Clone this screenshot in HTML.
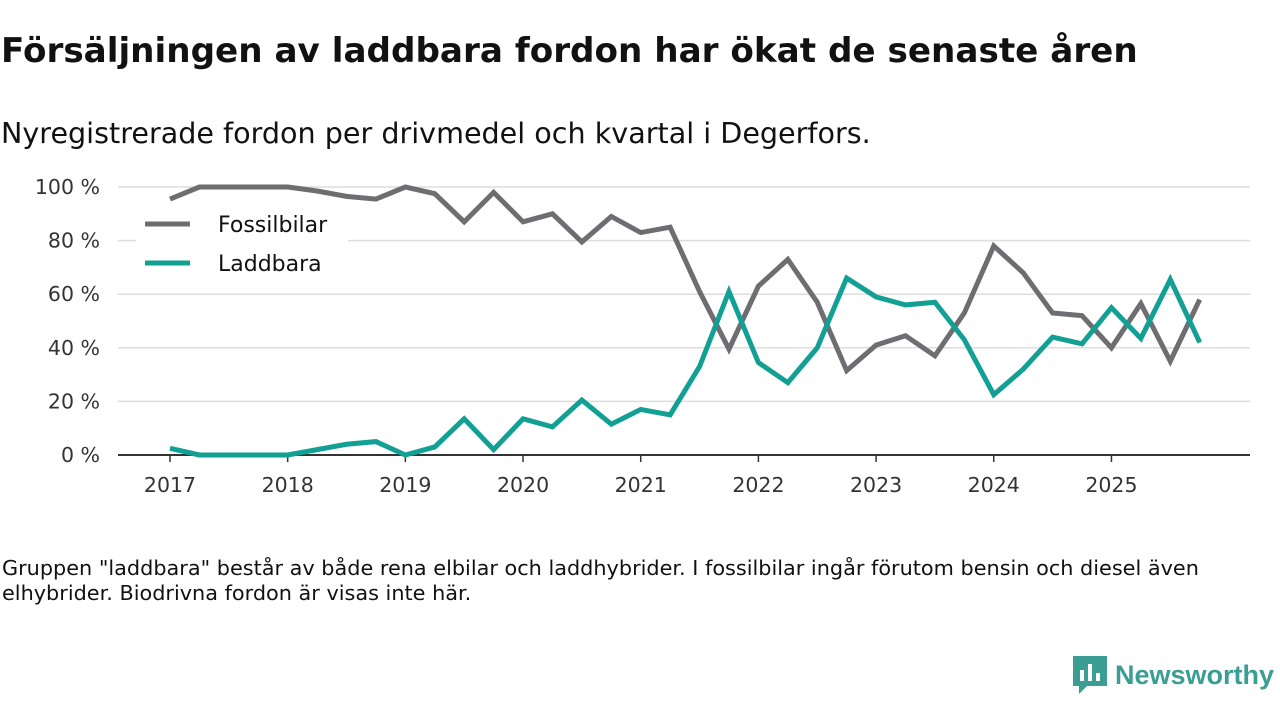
<!DOCTYPE html>
<html><head><meta charset="utf-8">
<style>
body{margin:0;width:1280px;height:720px;background:#fff;font-family:"DejaVu Sans","Liberation Sans",sans-serif;color:#111;overflow:hidden;position:relative}
.t{position:absolute;left:1px;top:31px;font-size:34.2px;font-weight:bold;margin:0;letter-spacing:0;white-space:nowrap}
.s{position:absolute;left:1px;top:116px;font-size:28.6px;margin:0;white-space:nowrap}
.f{position:absolute;left:2px;top:556px;font-size:20.8px;line-height:25px;width:1250px}
</style></head><body>
<h1 class="t">Försäljningen av laddbara fordon har ökat de senaste åren</h1>
<p class="s">Nyregistrerade fordon per drivmedel och kvartal i Degerfors.</p>
<svg id="c" width="1280" height="720" style="position:absolute;left:0;top:0;font-family:'DejaVu Sans',sans-serif"></svg>
<div class="f">Gruppen "laddbara" består av både rena elbilar och laddhybrider. I fossilbilar ingår förutom bensin och diesel även elhybrider. Biodrivna fordon är visas inte här.</div>
<div style="position:absolute;left:1073px;top:656px;display:flex;align-items:center;gap:8px;font-family:'Liberation Sans',sans-serif">
<svg width="34" height="38" viewBox="0 0 34 38"><path d="M0 0H34V30H14L6 38V30H0Z" fill="#3a9e94"/><rect x="7" y="14" width="4" height="11" fill="#fff"/><rect x="15" y="8" width="4" height="17" fill="#fff"/><rect x="23" y="17" width="4" height="8" fill="#fff"/></svg>
<span style="font-size:27px;font-weight:bold;color:#3a9e94">Newsworthy</span></div>
<script>
const years=["2017","2018","2019","2020","2021","2022","2023","2024","2025"];
const yTicks=[0,20,40,60,80,100];
const fossil=[95.5,100,100,100,100,98.5,96.5,95.5,100,97.5,87,98,87,90,79.5,89,83,85,61,39.5,63,73,57,31.5,41,44.5,37,53,78,68,53,52,40,56.5,35,58];
const laddbara=[2.5,0,0,0,0,2,4,5,0,3,13.5,2,13.5,10.5,20.5,11.5,17,15,33,61,34.5,27,40,66,59,56,57,43,22.5,32,44,41.5,55,43.5,65.5,42];
const svg=document.getElementById('c');const NS='http://www.w3.org/2000/svg';
const X=i=>170+i*29.42, Y=v=>455-v*2.68;
function mk(t,a,p){const e=document.createElementNS(NS,t);for(const k in a)e.setAttribute(k,a[k]);(p||svg).appendChild(e);return e;}
yTicks.forEach(v=>{
 const g=mk('line',{x1:118,x2:1250,y1:Y(v),y2:Y(v),stroke:v===0?'#333':'#ddd','stroke-width':v===0?2:1.5});
 
 
 const t=mk('text',{x:100,y:Y(v)+7,'text-anchor':'end','font-size':20.5,fill:'#333'});t.textContent=v+' %';
 
 
});
years.forEach((y,i)=>{
 const x=X(i*4);
 mk('line',{x1:x,x2:x,y1:455,y2:462,stroke:'#333','stroke-width':1.5});
 const t=mk('text',{x:x,y:492,'text-anchor':'middle','font-size':20.5,fill:'#333'});t.textContent=y;
 
 
});
function line(d,col,name){const p=mk('polyline',{points:d.map((v,i)=>X(i)+','+Y(v)).join(' '),fill:'none',stroke:col,'stroke-width':5,'stroke-linejoin':'miter'});
 
 }
line(fossil,'#6e6d71','series-fossilbilar');
line(laddbara,'#12a095','series-laddbara');
const lg=mk('g',{});


mk('rect',{x:136,y:204,width:212,height:82,fill:'#fff'},lg);
mk('line',{x1:145,x2:190,y1:224,y2:224,stroke:'#6e6d71','stroke-width':5},lg);
mk('line',{x1:145,x2:190,y1:263,y2:263,stroke:'#12a095','stroke-width':5},lg);
let t1=mk('text',{x:218,y:232,'font-size':22,fill:'#111'},lg);t1.textContent='Fossilbilar';
let t2=mk('text',{x:218,y:271,'font-size':22,fill:'#111'},lg);t2.textContent='Laddbara';
</script>
</body></html>
